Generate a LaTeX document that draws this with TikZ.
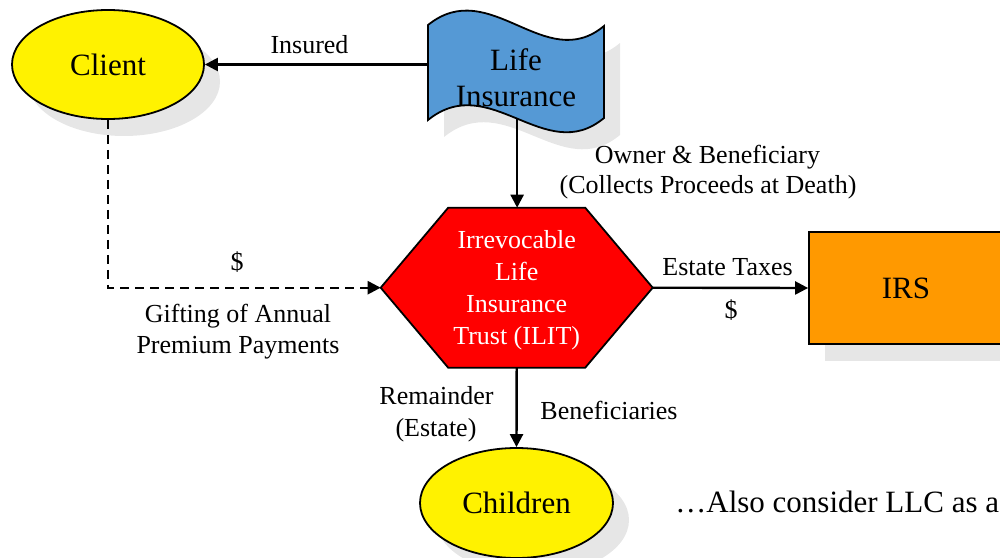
\documentclass[tikz,border=0pt]{standalone}
\usepackage{fontspec}
\setmainfont{Liberation Serif}
\usetikzlibrary{arrows.meta,shapes.geometric,shadows,calc}
\definecolor{lifeblue}{RGB}{85,153,213}
\definecolor{irsorange}{RGB}{255,153,0}
\definecolor{shadowgray}{RGB}{230,230,230}
\begin{document}
\begin{tikzpicture}[x=0.5pt,y=-0.5pt,
  big/.style={font=\fontsize{15.5}{18}\selectfont},
  small/.style={font=\fontsize{13}{16}\selectfont},
  conn/.style={line width=1.2pt,-{Triangle[length=6.5pt,width=6.5pt]}},
  border/.style={draw=black,line width=0.9pt},
  shad/.style={drop shadow={shadow xshift=8pt,shadow yshift=-8.5pt,fill=shadowgray,opacity=1}},
  lbl/.style={small,anchor=base,inner sep=0pt}
]
\useasboundingbox (0,0) rectangle (1000,557);
\clip (0,0) rectangle (1000,557);

% Client
\node[ellipse,border,fill=yellow,shad,minimum width=96pt,minimum height=54.5pt,inner sep=0pt,big] (client) at (108,64.5) {Client};

% Life insurance (wave shape)
\begin{scope}[shift={(16,17)}]
  \fill[shadowgray] (428,25) .. controls (490,-25) and (545,75) .. (604,26) -- (604,118) .. controls (545,167) and (490,70) .. (428,120) -- cycle;
\end{scope}
\draw[border,fill=lifeblue] (428,25) .. controls (490,-25) and (545,75) .. (604,26) -- (604,118) .. controls (545,167) and (490,70) .. coordinate[pos=0.5] (lifebot) (428,120) -- cycle;
\coordinate (lifew) at (428,64.5);
\node[big,align=center,inner sep=0pt] (life) at (516,78) {Life\\Insurance};

% ILIT hexagon
\coordinate (hexc) at (516.7,287.7);
\coordinate (ilittop) at ($(hexc)+(0,-80)$);
\coordinate (ilitbottom) at ($(hexc)+(0,80)$);
\coordinate (ilitwest) at ($(hexc)+(-136,0)$);
\coordinate (ilireast) at ($(hexc)+(136,0)$);
\begin{scope}[shift={(16,17)}]
  \fill[shadowgray] ($(hexc)+(-68.5,-80)$) -- ($(hexc)+(68.5,-80)$) -- (ilireast) -- ($(hexc)+(68.5,80)$) -- ($(hexc)+(-68.5,80)$) -- (ilitwest) -- cycle;
\end{scope}
\draw[border,fill=red] ($(hexc)+(-68.5,-80)$) -- ($(hexc)+(68.5,-80)$) -- (ilireast) -- ($(hexc)+(68.5,80)$) -- ($(hexc)+(-68.5,80)$) -- (ilitwest) -- cycle;
\node[small,text=white,align=center,inner sep=0pt,yshift=-1.5pt] (ilit) at (hexc) {Irrevocable\\Life\\Insurance\\Trust (ILIT)};

% IRS
\node[rectangle,border,fill=irsorange,shad,minimum width=97pt,minimum height=56pt,inner sep=0pt,big] (irs) at (906,288) {IRS};

% Children
\node[ellipse,border,fill=yellow,shad,minimum width=96.5pt,minimum height=55pt,inner sep=0pt,big] (children) at (516.5,503) {Children};

% connectors
\draw[conn] (lifew) -- (client.east);
\draw[conn] (lifebot) -- (lifebot |- ilittop);
\draw[conn,dash pattern=on 4.5pt off 3pt] (client.south) -- (client.south |- ilitwest) -- (ilitwest);
\draw[conn] (ilireast) -- (irs.west);
\draw[conn] (ilitbottom) -- (children.north);

% labels
\node[lbl] (lInsured) at (309.5,53) {Insured};
\node[lbl] (lOwner) at (707.5,163) {Owner \& Beneficiary};
\node[lbl] (lCollects) at (708,193) {(Collects Proceeds at Death)};
\node[lbl] (lEstateTaxes) at (727.5,275) {Estate Taxes};
\node[lbl] (lDollarR) at (731,318) {\$};
\node[lbl] (lDollarL) at (237,270) {\$};
\node[lbl] (lGifting) at (238,322) {Gifting of Annual};
\node[lbl] (lPremium) at (238,353) {Premium Payments};
\node[lbl] (lRemainder) at (436.5,404) {Remainder};
\node[lbl] (lEstate) at (436,436) {(Estate)};
\node[lbl] (lBenef) at (609,419) {Beneficiaries};
\node[big,anchor=base west,inner sep=0pt] (lAlso) at (675,512) {…Also consider LLC as a};
\end{tikzpicture}
\end{document}
